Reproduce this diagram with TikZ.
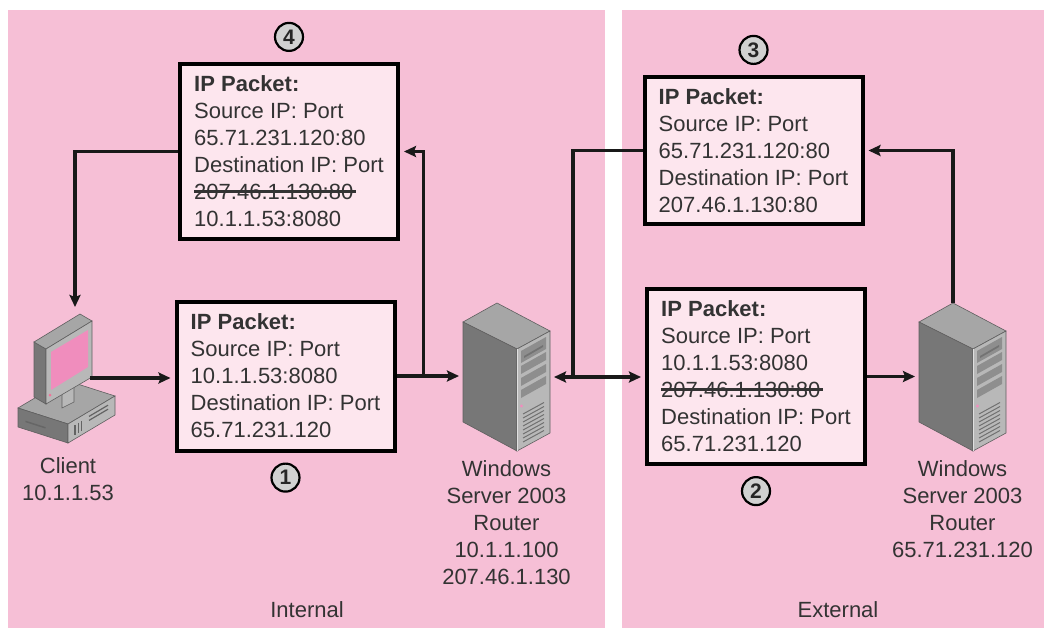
\documentclass[tikz,border=0pt]{standalone}
\usepackage{fontspec}
\setmainfont{Liberation Sans}
\usetikzlibrary{arrows.meta, positioning}

\definecolor{panelpink}{HTML}{F6BFD6}
\definecolor{packetpink}{HTML}{FDE6EE}
\definecolor{inkgray}{HTML}{333333}
\definecolor{screenpink}{HTML}{F08DBD}
\definecolor{towerdark}{HTML}{777777}
\definecolor{towertop}{HTML}{A6A6A6}
\definecolor{towerside}{HTML}{B8B8B8}
\definecolor{towerbay}{HTML}{8E8E8E}

\newlength{\crosslen}
\newcommand{\crossout}[1]{\settowidth{\crosslen}{#1}\makebox[0pt][l]{\rule[6.5pt]{\dimexpr\crosslen+3pt\relax}{3pt}}#1}

\tikzset{
  packet/.style={draw=black, line width=4pt, fill=packetpink, align=left, minimum width=218pt,
    text=inkgray, font=\fontsize{22}{27}\selectfont},
  badge/.style={circle, draw=black, line width=2.2pt, fill=black!18, minimum size=28pt, inner sep=0pt,
    text=black!85, font=\fontsize{21}{21}\selectfont\bfseries},
  hostname/.style={align=center, inner sep=0pt, text=inkgray, font=\fontsize{22}{27}\selectfont},
  flow/.style={line width=3.8pt, draw=black!90, -{Stealth[length=12pt,width=11pt,inset=2pt]}, shorten >=4pt},
  twoway/.style={flow, {Stealth[length=12pt,width=11pt,inset=2pt]}-{Stealth[length=12pt,width=11pt,inset=2pt]}, shorten <=4pt},
  face/.style={draw=towerdark!80!black, line width=.6pt},
  server/.pic={
    \filldraw[face, fill=towertop] (0,0) -- (-34,19) -- (20,46) -- (53,28) -- cycle;
    \filldraw[face, fill=towerdark] (-34,19) -- (20,46) -- (20,148) -- (-34,119) -- cycle;
    \filldraw[face, fill=towerside] (20,46) -- (53,28) -- (53,130) -- (20,148) -- cycle;
    \fill[towerbay] (24,48) -- (49,34) -- (49,46) -- (24,60) -- cycle;
    \fill[black!55] (27,53) -- (46,42) -- (46,44) -- (27,55) -- cycle;
    \foreach \v in {19,31,43}
      \fill[towerbay] (24,{44+\v}) -- (49,{30+\v}) -- (49,{38+\v}) -- (24,{52+\v}) -- cycle;
    \fill[screenpink] (24.5,103) circle (1.6);
    \foreach \v in {68,72,...,96}
      \draw[towerbay!80!black, line width=1pt] (26,{43+\v}) -- (47,{31.5+\v});
    \draw[white!75!gray, line width=.8pt] (20,46) -- (20,148);
    \node[minimum width=87pt, minimum height=148pt, inner sep=0pt, outer sep=0pt] (-box) at (9.5,74) {};
    \coordinate (-top) at (0,0);
  },
  computer/.pic={
    % desk unit
    \filldraw[face, fill=towertop] (-47,8) -- (3,24) -- (50,-4) -- (0,-20) -- cycle;
    \filldraw[face, fill=towerdark] (-47,8) -- (3,24) -- (3,43) -- (-47,27) -- cycle;
    \filldraw[face, fill=towerside] (3,24) -- (50,-4) -- (50,15) -- (3,43) -- cycle;
    \foreach \u in {.15,.22,.29}
      \draw[towerbay!70!black, line width=1.5pt] ({3+47*\u},{29-28*\u}) -- ++(0,10);
    \draw[towerbay!70!black, line width=1.2pt] (24,16.4) -- (43,5.2) (24,20.4) -- (43,9.2);
    \draw[black!60, line width=1.5pt] (-39.5,21.4) -- (-19.5,27.8);
    % stand and monitor
    \filldraw[face, fill=towerside] (-3,-8) -- (9,-14) -- (9,2) -- (-3,8) -- cycle;
    \filldraw[face, fill=towerdark] (-31,-58) -- (-19,-51) -- (-19,4) -- (-31,-3) -- cycle;
    \filldraw[face, fill=towertop] (-31,-58) -- (15,-86) -- (27,-79) -- (-19,-51) -- cycle;
    \filldraw[face, fill=towerside] (-19,-51) -- (27,-79) -- (27,-23) -- (-19,4) -- cycle;
    \fill[screenpink] (-14,-48) -- (23,-70) -- (23,-33) -- (-14,-10) -- cycle;
    \fill[screenpink!80!red] (-15,-5) circle (1.5);
    \coordinate (-top) at (10,-89);
    \coordinate (-port) at (25,-22);
    \coordinate (-foot) at (3,43);
  }
}

\begin{document}
\begin{tikzpicture}[x=1pt, y=-1pt]
  \useasboundingbox (0,0) rectangle (1046,630);
  \fill[white] (0,0) rectangle (1046,630);
  \fill[panelpink] (8,10) rectangle (605,628);
  \fill[panelpink] (622,10) rectangle (1044,628);

  \pic (client) at (65,400) {computer};
  \pic (r1) at (497,303) {server};
  \pic (r2) at (953,303) {server};

  \node[hostname, below=14pt of client-foot] (client-name) {Client\\10.1.1.53};
  \node[hostname, below=9pt of r1-box] (r1-name) {Windows\\Server 2003\\Router\\10.1.1.100\\207.46.1.130};
  \node[hostname, below=9pt of r2-box] (r2-name) {Windows\\Server 2003\\Router\\65.71.231.120};

  \node[packet, minimum height=149pt] (p1) at (285.5,376) {\textbf{IP Packet:}\\Source IP: Port\\10.1.1.53:8080\\Destination IP: Port\\65.71.231.120};
  \node[packet, minimum height=175pt] (p2) at (756,376.5) {\textbf{IP Packet:}\\Source IP: Port\\10.1.1.53:8080\\\crossout{207.46.1.130:80}\\Destination IP: Port\\65.71.231.120};
  \node[packet, minimum height=147pt] (p3) at (753.5,150.5) {\textbf{IP Packet:}\\Source IP: Port\\65.71.231.120:80\\Destination IP: Port\\207.46.1.130:80};
  \node[packet, minimum height=175pt] (p4) at (289,151.5) {\textbf{IP Packet:}\\Source IP: Port\\65.71.231.120:80\\Destination IP: Port\\\crossout{207.46.1.130:80}\\10.1.1.53:8080};

  \node[badge, below=10pt of p1] (n1) {1};
  \node[badge, below=10pt of p2] (n2) {2};
  \node[badge, above=10pt of p3] (n3) {3};
  \node[badge, above=10pt of p4] (n4) {4};

  \node[hostname] (internal) at (307,610) {Internal};
  \node[hostname] (external) at (838,610) {External};

  \coordinate[right=27pt of p1.east] (fork);
  \coordinate (merge) at (573,377);

  \draw[flow] (client-port) -- (client-port -| p1.west);
  \draw[flow] (p1.east) -- (p1.east -| r1-box.west);
  \draw[flow] (fork) |- (p4.east);
  \draw[flow] (p4.west) -| (client-top);
  \draw[line width=3.8pt, draw=black!90] (p3.west) -| (merge);
  \draw[twoway] (r1-box.east) -- (r1-box.east -| p2.west);
  \draw[flow] (p2.east) -- (p2.east -| r2-box.west);
  \draw[flow] (r2-top) |- (p3.east);
\end{tikzpicture}
\end{document}
